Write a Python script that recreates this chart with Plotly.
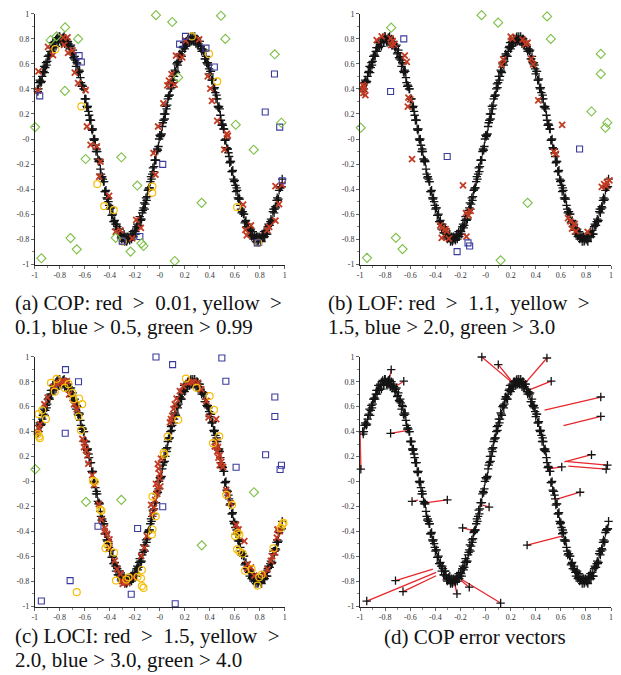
import plotly.graph_objects as go

# ---------------- data ----------------
# inlier points along the wave (two interleaved samples of the point cloud)
curve_x = [-0.98,-0.97,-0.96,-0.95,-0.94,-0.93,-0.92,-0.91,-0.90,-0.89,-0.88,-0.87,-0.86,-0.85,-0.84,-0.83,-0.82,-0.81,-0.80,-0.79,
           -0.78,-0.77,-0.76,-0.75,-0.74,-0.73,-0.72,-0.71,-0.70,-0.69,-0.68,-0.67,-0.66,-0.65,-0.64,-0.63,-0.62,-0.61,-0.60,-0.59,
           -0.58,-0.57,-0.56,-0.55,-0.54,-0.53,-0.52,-0.51,-0.50,-0.49,-0.48,-0.47,-0.46,-0.45,-0.44,-0.43,-0.42,-0.41,-0.40,-0.39,
           -0.38,-0.37,-0.36,-0.35,-0.34,-0.33,-0.32,-0.31,-0.30,-0.29,-0.28,-0.27,-0.26,-0.25,-0.24,-0.23,-0.22,-0.21,-0.20,-0.19,
           -0.18,-0.17,-0.16,-0.15,-0.14,-0.13,-0.12,-0.11,-0.10,-0.09,-0.08,-0.07,-0.06,-0.05,-0.04,-0.03,-0.02,-0.01,0.00,0.01,
           0.02,0.03,0.04,0.05,0.06,0.07,0.08,0.09,0.10,0.11,0.12,0.13,0.14,0.15,0.16,0.17,0.18,0.19,0.20,0.21,
           0.22,0.23,0.24,0.25,0.26,0.27,0.28,0.29,0.30,0.31,0.32,0.33,0.34,0.35,0.36,0.37,0.38,0.39,0.40,0.41,
           0.42,0.43,0.44,0.45,0.46,0.47,0.48,0.49,0.50,0.51,0.52,0.53,0.54,0.55,0.56,0.57,0.58,0.59,0.60,0.61,
           0.62,0.63,0.64,0.65,0.66,0.67,0.68,0.69,0.70,0.71,0.72,0.73,0.74,0.75,0.76,0.77,0.78,0.79,0.80,0.81,
           0.82,0.83,0.84,0.85,0.86,0.87,0.88,0.89,0.90,0.91,0.92,0.93,0.94,0.95,0.96,0.97,0.98]
curve_y = [0.40,0.40,0.47,0.45,0.50,0.54,0.53,0.61,0.62,0.66,
           0.66,0.73,0.73,0.73,0.78,0.74,0.81,0.78,0.82,0.78,
           0.80,0.81,0.76,0.80,0.76,0.76,0.72,0.75,0.69,0.65,
           0.66,0.58,0.60,0.53,0.54,0.45,0.43,0.40,0.32,0.32,
           0.25,0.22,0.15,0.15,0.07,0.00,0.00,-0.10,-0.10,-0.18,
           -0.18,-0.28,-0.30,-0.34,-0.42,-0.41,-0.48,-0.50,-0.56,-0.55,
           -0.61,-0.66,-0.65,-0.72,-0.70,-0.75,-0.72,-0.79,-0.78,-0.78,
           -0.82,-0.78,-0.81,-0.79,-0.81,-0.76,-0.77,-0.78,-0.73,-0.76,
           -0.68,-0.69,-0.62,-0.65,-0.59,-0.55,-0.56,-0.47,-0.46,-0.40,
           -0.39,-0.30,-0.28,-0.26,-0.17,-0.17,-0.08,-0.06,0.03,0.03,
           0.10,0.15,0.16,0.26,0.27,0.34,0.35,0.44,0.45,0.47,
           0.55,0.53,0.61,0.62,0.68,0.66,0.70,0.74,0.72,0.78,
           0.76,0.80,0.77,0.82,0.80,0.78,0.82,0.76,0.80,0.76,
           0.78,0.72,0.72,0.70,0.64,0.66,0.60,0.59,0.52,0.54,
           0.47,0.41,0.41,0.32,0.32,0.25,0.24,0.15,0.12,0.08,
           -0.01,0.00,-0.08,-0.11,-0.19,-0.18,-0.26,-0.32,-0.33,-0.42,
           -0.41,-0.48,-0.48,-0.56,-0.58,-0.60,-0.67,-0.65,-0.70,-0.71,
           -0.76,-0.72,-0.77,-0.80,-0.77,-0.82,-0.78,-0.81,-0.79,-0.81,
           -0.76,-0.77,-0.78,-0.73,-0.76,-0.68,-0.69,-0.64,-0.65,-0.56,
           -0.56,-0.55,-0.47,-0.48,-0.39,-0.38,-0.32]
curve2_x = [-0.975,-0.965,-0.955,-0.945,-0.935,-0.925,-0.915,-0.905,-0.895,-0.885,-0.875,-0.865,-0.855,-0.845,-0.835,-0.825,
            -0.815,-0.805,-0.795,-0.785,-0.775,-0.765,-0.755,-0.745,-0.735,-0.725,-0.715,-0.705,-0.695,-0.685,-0.675,-0.665,
            -0.655,-0.645,-0.635,-0.625,-0.615,-0.605,-0.595,-0.585,-0.575,-0.565,-0.555,-0.545,-0.535,-0.525,-0.515,-0.505,
            -0.495,-0.485,-0.475,-0.465,-0.455,-0.445,-0.435,-0.425,-0.415,-0.405,-0.395,-0.385,-0.375,-0.365,-0.355,-0.345,
            -0.335,-0.325,-0.315,-0.305,-0.295,-0.285,-0.275,-0.265,-0.255,-0.245,-0.235,-0.225,-0.215,-0.205,-0.195,-0.185,
            -0.175,-0.165,-0.155,-0.145,-0.135,-0.125,-0.115,-0.105,-0.095,-0.085,-0.075,-0.065,-0.055,-0.045,-0.035,-0.025,
            -0.015,-0.005,0.005,0.015,0.025,0.035,0.045,0.055,0.065,0.075,0.085,0.095,0.105,0.115,0.125,0.135,
            0.145,0.155,0.165,0.175,0.185,0.195,0.205,0.215,0.225,0.235,0.245,0.255,0.265,0.275,0.285,0.295,
            0.305,0.315,0.325,0.335,0.345,0.355,0.365,0.375,0.385,0.395,0.405,0.415,0.425,0.435,0.445,0.455,
            0.465,0.475,0.485,0.495,0.505,0.515,0.525,0.535,0.545,0.555,0.565,0.575,0.585,0.595,0.605,0.615,
            0.625,0.635,0.645,0.655,0.665,0.675,0.685,0.695,0.705,0.715,0.725,0.735,0.745,0.755,0.765,0.775,
            0.785,0.795,0.805,0.815,0.825,0.835,0.845,0.855,0.865,0.875,0.885,0.895,0.905,0.915,0.925,0.935,
            0.945,0.955,0.965,0.975]
curve2_y = [0.38,0.45,0.46,0.46,0.53,0.58,0.57,0.59,0.66,0.67,0.70,0.70,0.77,0.74,0.77,0.80,
            0.77,0.82,0.80,0.77,0.81,0.82,0.77,0.75,0.78,0.74,0.74,0.68,0.71,0.64,0.63,0.61,
            0.54,0.55,0.49,0.42,0.42,0.40,0.32,0.26,0.26,0.19,0.15,0.08,0.08,-0.01,-0.05,-0.08,
            -0.16,-0.17,-0.24,-0.31,-0.32,-0.34,-0.42,-0.47,-0.47,-0.53,-0.55,-0.61,-0.60,-0.66,-0.68,-0.68,
            -0.75,-0.72,-0.76,-0.80,-0.77,-0.76,-0.81,-0.82,-0.78,-0.80,-0.78,-0.80,-0.74,-0.76,-0.74,-0.70,
            -0.71,-0.65,-0.64,-0.64,-0.57,-0.51,-0.52,-0.49,-0.41,-0.39,-0.34,-0.32,-0.23,-0.22,-0.17,-0.10,
            -0.09,0.00,0.02,0.04,0.13,0.20,0.20,0.24,0.32,0.35,0.40,0.41,0.50,0.50,0.54,0.60,
            0.59,0.66,0.67,0.66,0.73,0.77,0.74,0.75,0.80,0.79,0.81,0.78,0.82,0.79,0.79,0.80,
            0.75,0.78,0.74,0.70,0.71,0.71,0.64,0.61,0.61,0.56,0.54,0.47,0.48,0.40,0.37,0.35,
            0.26,0.26,0.19,0.11,0.11,0.08,-0.01,-0.07,-0.08,-0.14,-0.18,-0.26,-0.25,-0.34,-0.37,-0.39,
            -0.47,-0.47,-0.53,-0.59,-0.58,-0.60,-0.66,-0.70,-0.68,-0.73,-0.73,-0.78,-0.74,-0.79,-0.79,-0.78,
            -0.82,-0.78,-0.80,-0.82,-0.77,-0.74,-0.76,-0.76,-0.70,-0.69,-0.66,-0.66,-0.58,-0.59,-0.54,-0.49,
            -0.49,-0.41,-0.39,-0.38]

# (a) COP
a_red_x = [-0.974,-0.97,-0.894,-0.854,-0.772,-0.738,-0.765,-0.733,-0.698,-0.68,-0.653,-0.593,-0.582,-0.553,-0.503,-0.474,-0.484,-0.405,
           -0.352,-0.315,-0.188,-0.151,-0.22,-0.05,-0.034,-0.013,0.029,0.061,0.074,0.095,0.119,0.13,0.18,0.206,0.315,0.384,0.405,0.418,
           0.46,0.545,0.516,0.667,0.685,0.696,0.73,0.86,0.876,0.926,0.926,0.955,0.979,0.537]
a_red_y = [0.387,0.54,0.737,0.671,0.813,0.813,0.753,0.689,0.708,0.53,0.447,0.39,0.10,-0.047,-0.058,-0.18,-0.30,-0.455,
           -0.742,-0.73,-0.647,-0.71,-0.795,-0.113,-0.284,0.10,0.284,0.429,0.466,0.518,0.434,0.666,0.653,0.787,0.797,0.50,0.403,0.305,
           0.145,0.026,-0.084,-0.524,-0.726,-0.771,-0.69,-0.729,-0.703,-0.653,-0.376,-0.521,-0.366,0.042]
a_yel_x = [-0.836,-0.627,-0.50,-0.444,-0.368,-0.058,-0.06,0.257,0.394,0.46,0.619,0.788,-0.296]
a_yel_y = [0.718,0.26,-0.36,-0.537,-0.568,-0.38,-0.43,0.82,0.68,0.46,-0.545,-0.83,-0.82]
a_blu_x = [0.918,0.844,0.96,0.98,0.024,-0.159,-0.30,-0.645,-0.627,-0.96,0.206,0.159,0.37,0.437,0.78]
a_blu_y = [0.52,0.216,0.095,-0.334,-0.203,-0.779,-0.816,0.666,0.616,0.345,0.82,0.758,0.726,0.576,-0.83]
a_grn_x = [-0.03,0.10,0.49,0.525,0.92,0.973,0.608,0.752,0.335,0.12,-0.233,-0.146,-0.13,-0.352,-0.18,-0.307,-0.593,-0.997,
           -0.759,-0.757,-0.653,-0.873,-0.825,-0.714,-0.664,-0.947,0.148]
a_grn_y = [0.99,0.935,0.985,0.80,0.677,0.13,0.114,-0.086,-0.51,-0.975,-0.90,-0.834,-0.855,-0.79,-0.372,-0.146,-0.16,0.095,
           0.384,0.892,0.80,0.79,0.82,-0.792,-0.882,-0.953,0.492]

# (b) LOF
b_red_x = [-0.98,-0.974,-0.966,-0.958,-0.974,-0.868,-0.828,-0.757,-0.741,-0.752,-0.73,-0.644,-0.628,-0.615,-0.60,-0.62,-0.586,
           -0.361,-0.346,-0.319,-0.293,-0.35,-0.31,-0.18,-0.153,-0.156,-0.135,-0.119,0.127,0.14,0.20,0.214,0.295,0.319,0.335,0.364,
           0.38,0.42,0.544,0.56,0.61,0.657,0.676,0.689,0.71,0.72,0.813,0.926,0.945,0.966,0.987,0.96]
b_red_y = [0.43,0.395,0.42,0.35,0.368,0.79,0.82,0.805,0.784,0.75,0.758,0.666,0.616,0.33,0.316,0.258,-0.16,
           -0.69,-0.71,-0.72,-0.797,-0.79,-0.737,-0.37,-0.78,-0.592,-0.61,-0.574,0.595,0.637,0.818,0.803,0.795,0.758,0.771,0.64,
           0.597,0.308,-0.10,-0.118,0.113,-0.632,-0.658,-0.716,-0.679,-0.737,-0.742,-0.382,-0.36,-0.347,-0.33,-0.374]
b_blu_x = [-0.652,-0.757,-0.306,0.749,-0.227,-0.14,-0.127]
b_blu_y = [0.80,0.38,-0.14,-0.08,-0.90,-0.83,-0.855]
b_grn_x = [-0.032,0.10,0.49,0.52,0.918,0.918,0.844,0.97,0.955,-0.995,-0.752,0.335,0.12,-0.715,-0.662,-0.945]
b_grn_y = [0.99,0.93,0.98,0.80,0.68,0.52,0.22,0.13,0.09,0.09,0.89,-0.51,-0.97,-0.79,-0.88,-0.95]

# (c) LOCI
c_red_x = [-0.968,-0.979,-0.958,-0.923,-0.897,-0.849,-0.804,-0.772,-0.743,-0.725,-0.685,-0.664,-0.619,-0.606,-0.579,-0.571,-0.54,
           -0.526,-0.487,-0.466,-0.439,-0.421,-0.402,-0.402,-0.36,-0.341,-0.315,-0.296,-0.262,-0.209,-0.148,-0.122,-0.103,-0.069,
           -0.037,-0.016,-0.002,-0.01,0.01,-0.02,-0.03,0.0,-0.015,0.005,-0.045,-0.06,
           0.082,0.10,0.121,0.135,0.161,0.188,0.254,0.307,0.333,0.373,0.391,0.452,0.466,0.479,0.492,0.506,0.532,0.545,0.566,0.611,
           0.63,0.677,0.704,0.73,0.757,0.836,0.862,0.889,0.921,0.937,0.942,
           0.45,0.46,0.47,0.44,0.48,0.09,0.11,0.27,0.23,-0.59,-0.60,-0.82,-0.79,-0.76,-0.44,-0.30,-0.28,0.70,0.90,0.96]
c_red_y = [0.426,0.394,0.458,0.619,0.672,0.759,0.791,0.804,0.804,0.698,0.619,0.579,0.341,0.275,0.209,0.143,0.05,
           -0.029,-0.183,-0.307,-0.373,-0.421,-0.466,-0.532,-0.637,-0.704,-0.743,-0.823,-0.81,-0.77,-0.598,-0.532,-0.439,-0.188,
           -0.148,-0.056,0.024,0.103,0.183,-0.10,-0.02,0.06,0.14,-0.04,-0.21,-0.26,
           0.474,0.526,0.619,0.664,0.725,0.764,0.796,0.791,0.738,0.645,0.513,0.50,0.275,0.209,0.156,0.117,-0.069,-0.108,-0.175,-0.347,
           -0.386,-0.479,-0.664,-0.69,-0.757,-0.743,-0.704,-0.637,-0.571,-0.452,-0.386,
           0.32,0.24,0.19,0.28,0.13,0.50,0.58,0.80,0.79,0.25,0.31,0.78,0.80,0.80,-0.40,-0.80,-0.81,-0.70,-0.60,-0.40]
c_yel_x = [-0.825,-0.87,-0.84,-0.76,-0.73,-0.70,-0.69,-0.645,-0.62,-0.65,-0.63,-0.97,-0.94,-0.91,-0.976,-0.966,-0.96,-0.534,
           -0.52,-0.476,-0.466,-0.418,-0.434,-0.365,-0.35,-0.25,-0.267,-0.177,-0.15,-0.143,-0.143,-0.13,-0.664,-0.058,-0.032,-0.058,
           -0.063,0.209,0.294,0.399,0.434,0.148,0.063,0.032,0.037,0.476,0.426,0.532,0.579,0.624,0.603,0.637,0.619,0.637,0.664,0.683,
           0.735,0.796,0.815,0.783,0.91,0.968,0.981,0.99]
c_yel_y = [0.823,0.79,0.72,0.75,0.78,0.71,0.66,0.665,0.62,0.52,0.41,0.54,0.57,0.50,0.38,0.36,0.347,0.005,
           -0.003,-0.228,-0.236,-0.51,-0.537,-0.571,-0.796,-0.77,-0.788,-0.765,-0.778,-0.711,-0.84,-0.855,-0.889,-0.122,-0.28,-0.386,
           -0.426,0.825,0.751,0.685,0.574,0.494,0.36,0.23,0.214,0.362,0.307,-0.108,-0.188,-0.413,-0.439,-0.426,-0.545,-0.563,-0.579,-0.717,
           -0.704,-0.77,-0.749,-0.836,-0.537,-0.373,-0.347,-0.333]
c_blu_x = [-0.03,0.103,0.497,0.529,0.921,0.921,0.847,0.974,0.963,0.611,0.024,0.124,-0.754,-0.65,-0.756,-0.494,-0.717,-0.947,-0.228,-0.177]
c_blu_y = [0.998,0.937,0.99,0.804,0.677,0.521,0.214,0.13,0.095,0.114,-0.204,-0.982,0.897,0.80,0.386,-0.36,-0.796,-0.96,-0.905,-0.378]
c_grn_x = [-0.995,-0.59,-0.307,0.754,0.336]
c_grn_y = [0.098,-0.164,-0.148,-0.087,-0.513]

# (d) COP error vectors: outlier position -> expected position on the curve
d_out_x = [-0.03,0.101,0.489,0.523,0.918,0.918,0.844,0.971,0.961,0.607,0.753,0.331,-0.183,-0.994,-0.586,-0.305,-0.718,-0.658,
           -0.947,-0.228,-0.13,0.12,-0.757,-0.752,-0.652,0.028]
d_out_y = [0.998,0.937,0.99,0.804,0.677,0.521,0.214,0.13,0.098,0.116,-0.087,-0.511,-0.373,0.098,-0.161,-0.148,-0.796,-0.884,
           -0.96,-0.902,-0.849,-0.976,0.386,0.897,0.804,-0.206]
d_fit_x = [0.199,0.212,0.318,0.344,0.47,0.621,0.628,0.634,0.66,0.515,0.568,0.608,-0.09,-1.0,-0.54,-0.47,-0.42,-0.394,
           -0.394,-0.249,-0.196,-0.196,-0.631,-0.768,-0.705,-0.02]
d_fit_y = [0.804,0.799,0.791,0.733,0.571,0.447,0.156,0.161,0.122,0.103,-0.143,-0.439,-0.397,0.407,-0.15,-0.17,-0.704,-0.757,
           -0.73,-0.81,-0.796,-0.783,0.407,0.817,0.77,-0.19]

tick_vals = [-1, -0.8, -0.6, -0.4, -0.2, 0, 0.2, 0.4, 0.6, 0.8, 1]
tick_text = ["-1", "-0.8", "-0.6", "-0.4", "-0.2", "-0", "0.2", "0.4", "0.6", "0.8", "1"]
minor_vals = [-0.9, -0.7, -0.5, -0.3, -0.1, 0.1, 0.3, 0.5, 0.7, 0.9]

NB = "\u00a0"
captions = [
    ["(a) COP: red" + NB * 2 + ">" + NB * 2 + "0.01, yellow" + NB * 2 + ">",
     "0.1, blue > 0.5, green > 0.99"],
    ["(b) LOF: red" + NB * 2 + ">" + NB * 2 + "1.1," + NB * 2 + "yellow" + NB * 2 + ">",
     "1.5, blue > 2.0, green > 3.0"],
    ["(c) LOCI: red" + NB * 2 + ">" + NB * 2 + "1.5, yellow" + NB * 2 + ">",
     "2.0, blue > 3.0, green > 4.0"],
    ["(d) COP error vectors"],
]

# ---------------- figure ----------------
W, H = 621, 675
BLACK = "#141414"
RED = "#c23b22"
YEL = "#f5be0b"
BLU = "#3b3b9e"
GRN = "#7cbf45"
VEC = "#e8262b"
SERIF = "Liberation Serif"

fig = go.Figure()
axes = [("x", "y"), ("x2", "y2"), ("x3", "y3"), ("x4", "y4")]


def pts(xs, ys, ax, symbol, color, size, lw):
    fig.add_trace(go.Scatter(
        x=xs, y=ys, mode="markers", xaxis=ax[0], yaxis=ax[1], cliponaxis=False,
        marker=dict(symbol=symbol, size=size, color=color, line=dict(color=color, width=lw)),
        showlegend=False, hoverinfo="skip"))


def base_curve(ax):
    pts(curve_x, curve_y, ax, "cross-thin-open", BLACK, 6, 1.3)
    pts(curve2_x, curve2_y, ax, "cross-thin-open", BLACK, 6, 1.3)


# panel a
base_curve(axes[0])
pts(a_red_x, a_red_y, axes[0], "x-thin-open", RED, 6, 1.8)
pts(a_yel_x, a_yel_y, axes[0], "circle-open", YEL, 7, 1.2)
pts(a_blu_x, a_blu_y, axes[0], "square-open", BLU, 6, 1.1)
pts(a_grn_x, a_grn_y, axes[0], "diamond-open", GRN, 7, 1.1)
# panel b
base_curve(axes[1])
pts(b_red_x, b_red_y, axes[1], "x-thin-open", RED, 6, 1.8)
pts(b_blu_x, b_blu_y, axes[1], "square-open", BLU, 6, 1.1)
pts(b_grn_x, b_grn_y, axes[1], "diamond-open", GRN, 7, 1.1)
# panel c
base_curve(axes[2])
pts(c_red_x, c_red_y, axes[2], "x-thin-open", RED, 6, 1.8)
pts(c_yel_x, c_yel_y, axes[2], "circle-open", YEL, 7, 1.2)
pts(c_blu_x, c_blu_y, axes[2], "square-open", BLU, 6, 1.1)
pts(c_grn_x, c_grn_y, axes[2], "diamond-open", GRN, 7, 1.1)
# panel d
vx, vy = [], []
for x0, y0, x1, y1 in zip(d_out_x, d_out_y, d_fit_x, d_fit_y):
    vx += [x0, x1, None]
    vy += [y0, y1, None]
fig.add_trace(go.Scatter(x=vx, y=vy, mode="lines", xaxis="x4", yaxis="y4", cliponaxis=False,
                         line=dict(color=VEC, width=1.3), showlegend=False, hoverinfo="skip"))
base_curve(axes[3])
pts(d_out_x, d_out_y, axes[3], "cross-thin-open", BLACK, 6, 1.3)

# axes placement (pixels -> paper)
cols = [(32, 284), (360, 613)]
rows = [(10, 264), (357, 610)]
layout = dict(width=W, height=H, margin=dict(l=0, r=0, t=0, b=0),
              paper_bgcolor="white", plot_bgcolor="white", showlegend=False)
for i, (xa, ya) in enumerate(axes):
    cx = cols[i % 2]
    ry = rows[i // 2]
    xname = "xaxis" if i == 0 else f"xaxis{i + 1}"
    yname = "yaxis" if i == 0 else f"yaxis{i + 1}"
    common = dict(showgrid=False, zeroline=False, showline=True, linecolor="#222", linewidth=1,
                  ticks="outside", ticklen=3, tickcolor="#666", tickwidth=1,
                  tickmode="array", tickvals=tick_vals, ticktext=tick_text,
                  tickfont=dict(family=SERIF, size=8, color="#333"),
                  ticklabeloverflow="allow",
                  minor=dict(tickmode="array", tickvals=minor_vals, ticks="outside", ticklen=2, tickcolor="#888"),
                  fixedrange=True)
    layout[xname] = dict(common, domain=[cx[0] / W, cx[1] / W], range=[-1, 1], anchor=ya)
    layout[yname] = dict(common, domain=[1 - ry[1] / H, 1 - ry[0] / H], range=[-1.006, 1], anchor=xa)

ann = []
cap_pos = [(10, 303, 327), (326, 303, 327), (10, 640, 664)]
for (x0, y1, y2), lines in zip(cap_pos, captions[:3]):
    for txt, yy in zip(lines, (y1, y2)):
        ann.append(dict(text=txt, x=x0 / W, y=1 - yy / H, xref="paper", yref="paper",
                        xanchor="left", yanchor="middle", showarrow=False,
                        font=dict(family=SERIF, size=21, color="#111")))
ann.append(dict(text=captions[3][0], x=476 / W, y=1 - 641 / H, xref="paper", yref="paper",
                xanchor="center", yanchor="middle", showarrow=False,
                font=dict(family=SERIF, size=21, color="#111")))
layout["annotations"] = ann
fig.update_layout(**layout)
fig.write_html("out.html", config={"displayModeBar": False},
               post_script="document.body.style.margin='0';document.body.style.padding='0';")
